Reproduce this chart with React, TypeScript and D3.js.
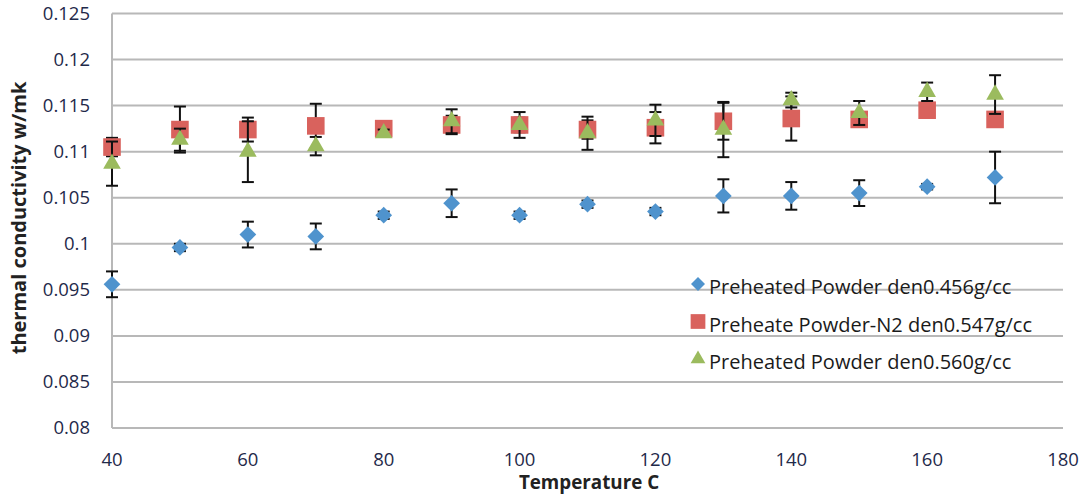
import React from "react";
import * as d3 from "d3";

const temps = [40, 50, 60, 70, 80, 90, 100, 110, 120, 130, 140, 150, 160, 170];

const blueVals = [0.0956, 0.0996, 0.101, 0.1008, 0.1031, 0.1044, 0.1031, 0.1043, 0.1035, 0.1052, 0.1052, 0.1055, 0.1062, 0.1072];
const blueErr = [0.0014, 0.0004, 0.0014, 0.0014, 0.0004, 0.0015, 0.0004, 0.0004, 0.0004, 0.0018, 0.0015, 0.0014, 0.0003, 0.0028];

const redVals = [0.1105, 0.1124, 0.1124, 0.1128, 0.1125, 0.1129, 0.1129, 0.1124, 0.1126, 0.1133, 0.1136, 0.1135, 0.1145, 0.1135];
const redErr = [0.001, 0.0025, 0.0013, 0.0024, 0.0005, 0.001, 0.0008, 0.001, 0.0017, 0.002, 0.0024, 0.0005, 0.0003, 0.0003];

const greenVals = [0.1087, 0.1113, 0.11, 0.1106, 0.112, 0.1133, 0.1129, 0.112, 0.1134, 0.1124, 0.1156, 0.1142, 0.1165, 0.1162];
const greenErr = [0.0024, 0.0012, 0.0033, 0.001, 0.0004, 0.0013, 0.0014, 0.0018, 0.0017, 0.003, 0.0008, 0.0013, 0.001, 0.0021];

const yTicks = [0.08, 0.085, 0.09, 0.095, 0.1, 0.105, 0.11, 0.115, 0.12, 0.125];
const xTicks = [40, 60, 80, 100, 120, 140, 160, 180];

const seriesNames = [
  "Preheated Powder den0.456g/cc",
  "Preheate Powder-N2 den0.547g/cc",
  "Preheated Powder den0.560g/cc",
];

const W = 1085;
const H = 495;
const left = 112;
const right = 1063;
const top = 13.5;
const bottom = 428;

const font = "'Open Sans', Lato, sans-serif";

// Excel-style diamond: a square turned 45 degrees
const diamond = {
  draw(ctx: any, size: number) {
    const r = Math.sqrt(size / 2);
    ctx.moveTo(0, -r);
    ctx.lineTo(r, 0);
    ctx.lineTo(0, r);
    ctx.lineTo(-r, 0);
    ctx.closePath();
  },
};

export default function App() {
  const x = d3.scaleLinear().domain([40, 180]).range([left, right]);
  const y = d3.scaleLinear().domain([0.08, 0.125]).range([bottom, top]);

  const series = [
    { name: seriesNames[0], vals: blueVals, err: blueErr, color: "#4F93CD", shape: diamond, size: 140 },
    { name: seriesNames[1], vals: redVals, err: redErr, color: "#D9625D", shape: d3.symbolSquare, size: 310 },
    { name: seriesNames[2], vals: greenVals, err: greenErr, color: "#9BBB5E", shape: d3.symbolTriangle, size: 135 },
  ];

  return (
    <svg width={W} height={H} style={{ position: "absolute", left: 0, top: 0, background: "#fff" }}>
      {yTicks.map((t) => (
        <g key={`y${t}`}>
          <line x1={left} x2={right} y1={y(t)} y2={y(t)} stroke="#b8b8b8" strokeWidth={2} />
          <text x={90} y={y(t)} dy="0.35em" textAnchor="end" fontFamily={font} fontSize={18.5} fill="#1f2a4a">
            {t}
          </text>
        </g>
      ))}
      <line x1={left} x2={left} y1={top} y2={bottom} stroke="#b8b8b8" strokeWidth={2} />
      {xTicks.map((t) => (
        <text key={`x${t}`} x={x(t)} y={460} dy="0.35em" textAnchor="middle" fontFamily={font} fontSize={18.5} fill="#1f2a4a">
          {t}
        </text>
      ))}
      <text x={589} y={482} dy="0.35em" textAnchor="middle" fontFamily={font} fontSize={18.8} fontWeight="bold" fill="#222">
        Temperature C
      </text>
      <text
        transform={`translate(19,218) rotate(-90)`}
        textAnchor="middle"
        dy="0.35em"
        fontFamily={font}
        fontSize={20}
        fontWeight="bold"
        fill="#222"
      >
        thermal conductivity w/mk
      </text>
      {series.map((s, si) => (
        <g key={`s${si}`}>
          {temps.map((t, i) => {
            const cx = x(t);
            const y1 = y(s.vals[i] + s.err[i]);
            const y2 = y(s.vals[i] - s.err[i]);
            return (
              <g key={`e${i}`} stroke="#111" strokeWidth={2}>
                <line x1={cx} x2={cx} y1={y1} y2={y2} />
                <line x1={cx - 6} x2={cx + 6} y1={y1} y2={y1} />
                <line x1={cx - 6} x2={cx + 6} y1={y2} y2={y2} />
              </g>
            );
          })}
          {temps.map((t, i) => (
            <path
              key={`m${i}`}
              transform={`translate(${x(t)},${y(s.vals[i])})`}
              d={d3.symbol(s.shape as any, s.size)() || ""}
              fill={s.color}
            />
          ))}
        </g>
      ))}
      {series.map((s, si) => {
        const ly = 287 + si * 37.5;
        return (
          <g key={`l${si}`}>
            <path transform={`translate(698,${ly - 3})`} d={d3.symbol(s.shape as any, s.size * 0.7)() || ""} fill={s.color} />
            <text x={709} y={ly} dy="0.35em" fontFamily={font} fontSize={20} fill="#1a1a1a">
              {s.name}
            </text>
          </g>
        );
      })}
    </svg>
  );
}
